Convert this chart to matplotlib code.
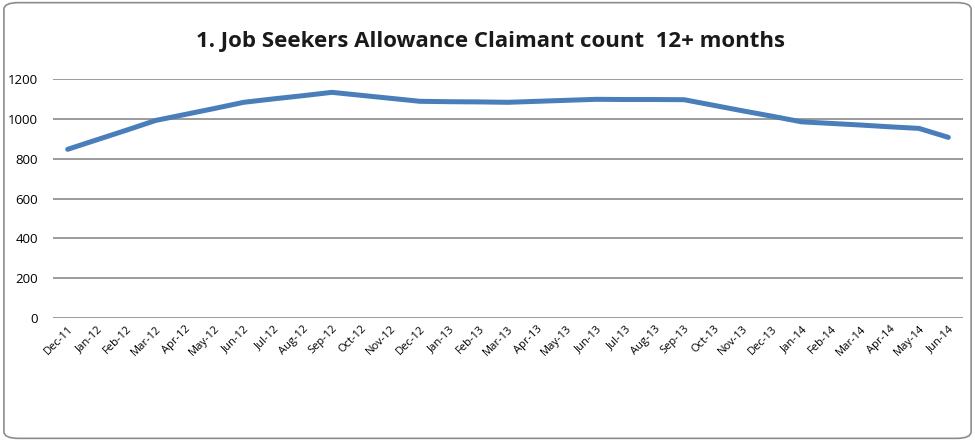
import matplotlib.pyplot as plt
from matplotlib.patches import FancyBboxPatch

months = ['Dec-11', 'Jan-12', 'Feb-12', 'Mar-12', 'Apr-12', 'May-12', 'Jun-12', 'Jul-12',
          'Aug-12', 'Sep-12', 'Oct-12', 'Nov-12', 'Dec-12', 'Jan-13', 'Feb-13', 'Mar-13',
          'Apr-13', 'May-13', 'Jun-13', 'Jul-13', 'Aug-13', 'Sep-13', 'Oct-13', 'Nov-13',
          'Dec-13', 'Jan-14', 'Feb-14', 'Mar-14', 'Apr-14', 'May-14', 'Jun-14']
claimants = [847, 895, 943, 992, 1022, 1052, 1083, 1100, 1116, 1133, 1118, 1103, 1088,
             1086, 1085, 1083, 1088, 1093, 1098, 1097, 1097, 1096, 1068, 1040, 1013,
             985, 977, 969, 960, 952, 907]
y_ticks = [0, 200, 400, 600, 800, 1000, 1200]

fig = plt.figure(figsize=(9.75, 4.41), dpi=100)
border = FancyBboxPatch((0.004, 0.006), 0.992, 0.988, boxstyle='round,pad=0,rounding_size=0.015',
                        transform=fig.transFigure, facecolor='white', edgecolor='#8c8c8c', lw=1.2,
                        zorder=-1)
fig.patches.append(border)

ax = fig.add_axes([53 / 975, 1 - 318 / 441, 910 / 975, 239 / 441])
ax.set_facecolor('none')
x = range(len(months))
ax.plot(x, claimants, color='#4a7ebb', lw=3.6, solid_capstyle='round', solid_joinstyle='round', zorder=3)

ax.set_xlim(-0.5, len(months) - 0.5)
ax.set_ylim(0, 1200)
ax.set_yticks(y_ticks)
ax.set_yticklabels([str(v) for v in y_ticks], fontsize=9.5, family='Open Sans')
ax.set_xticks(list(x))
ax.set_xticklabels(months, rotation=45, ha='right', rotation_mode='anchor', fontsize=8, family='Open Sans')
ax.yaxis.grid(True, color='#8a8a8a', lw=1.2)
ax.set_axisbelow(True)
for s in ax.spines.values():
    s.set_visible(False)
ax.tick_params(length=0)
ax.tick_params(axis='y', pad=11)
ax.tick_params(axis='x', pad=4)

fig.text(0.503, 1 - 42 / 441, '1. Job Seekers Allowance Claimant count  12+ months',
         ha='center', va='center', fontsize=16, fontweight='bold', family='Open Sans', color='#1a1a1a')

fig.savefig('out.png', dpi=100)
